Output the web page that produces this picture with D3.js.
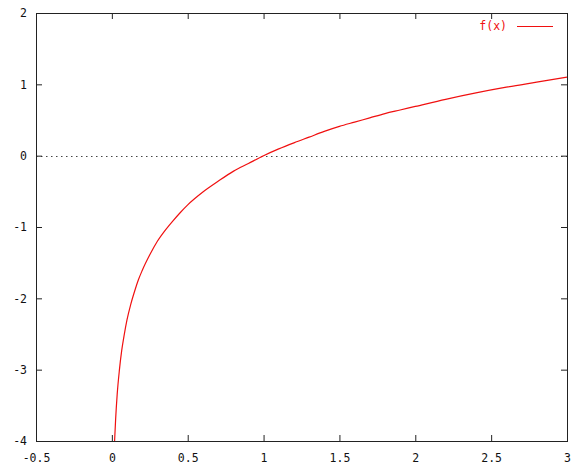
<!DOCTYPE html>
<html><head><meta charset="utf-8">
<script src="https://cdn.jsdelivr.net/npm/d3@7"></script>
<style>body{margin:0;background:#fff}svg{display:block}</style>
</head><body>
<script>
const xTicks = [-0.5, 0, 0.5, 1, 1.5, 2, 2.5, 3];
const yTicks = [-4, -3, -2, -1, 0, 1, 2];
const xTickLabels = ["-0.5", "0", "0.5", "1", "1.5", "2", "2.5", "3"];
const yTickLabels = ["-4", "-3", "-2", "-1", "0", "1", "2"];
const seriesName = "f(x)";
const xs = [0.018, 0.025, 0.035, 0.05, 0.065, 0.08, 0.1, 0.125, 0.15, 0.175, 0.2, 0.25, 0.3, 0.35, 0.4, 0.45, 0.5, 0.6, 0.7, 0.8, 0.9, 1.0, 1.1, 1.2, 1.3, 1.4, 1.5, 1.6, 1.7, 1.8, 1.9, 2.0, 2.2, 2.4, 2.6, 2.8, 3.0];
const ys = [-4.0, -3.69, -3.35, -3.0, -2.73, -2.53, -2.3, -2.08, -1.9, -1.74, -1.61, -1.39, -1.2, -1.05, -0.92, -0.8, -0.69, -0.51, -0.36, -0.22, -0.11, 0, 0.095, 0.18, 0.26, 0.34, 0.41, 0.47, 0.53, 0.59, 0.64, 0.69, 0.79, 0.88, 0.96, 1.03, 1.1];

const W = 588, H = 470;
const L = 36, R = 567, T = 13, B = 441;
const svg = d3.select("body").append("svg").attr("width", W).attr("height", H);
const x = d3.scaleLinear().domain([-0.5, 3]).range([L, R]);
const y = d3.scaleLinear().domain([-4, 2]).range([B, T]);
const font = "'DejaVu Sans Mono', monospace";
const axisColor = "#222";

// zero line
svg.append("line").attr("x1", L).attr("x2", R).attr("y1", Math.round(y(0)) + 0.5).attr("y2", Math.round(y(0)) + 0.5)
  .attr("stroke", "#444").attr("stroke-dasharray", "1.5,3.5");

function styleAxis(g, showLabels) {
  g.select(".domain").remove();
  g.selectAll(".tick line").attr("stroke", axisColor);
  if (!showLabels) g.selectAll(".tick text").remove();
  else g.selectAll(".tick text").attr("fill", "#111").attr("font-family", font).attr("font-size", "11.5px");
}
const fmtX = (d) => xTickLabels[xTicks.indexOf(d)];
const fmtY = (d) => yTickLabels[yTicks.indexOf(d)];

svg.append("g").attr("transform", `translate(0,${B})`)
  .call(d3.axisBottom(x).tickValues(xTicks).tickFormat(fmtX).tickSizeInner(-6).tickSizeOuter(0).tickPadding(13))
  .call(g => styleAxis(g, true));
svg.append("g").attr("transform", `translate(0,${T})`)
  .call(d3.axisTop(x).tickValues(xTicks).tickSizeInner(-6).tickSizeOuter(0))
  .call(g => styleAxis(g, false));
svg.append("g").attr("transform", `translate(${L},0)`)
  .call(d3.axisLeft(y).tickValues(yTicks).tickFormat(fmtY).tickSizeInner(-6).tickSizeOuter(0).tickPadding(9))
  .call(g => styleAxis(g, true));
svg.append("g").attr("transform", `translate(${R},0)`)
  .call(d3.axisRight(y).tickValues(yTicks).tickSizeInner(-6).tickSizeOuter(0))
  .call(g => styleAxis(g, false));

// frame
svg.append("rect").attr("x", L + 0.5).attr("y", T + 0.5).attr("width", R - L).attr("height", B - T)
  .attr("fill", "none").attr("stroke", axisColor).attr("stroke-width", 1);

// curve
svg.append("clipPath").attr("id", "c").append("rect").attr("x", L).attr("y", T).attr("width", R - L).attr("height", B - T + 1);
const data = xs.map((v, i) => [v, ys[i]]);
svg.append("path").datum(data)
  .attr("clip-path", "url(#c)")
  .attr("d", d3.line().x(d => x(d[0])).y(d => y(d[1])).curve(d3.curveMonotoneX))
  .attr("fill", "none").attr("stroke", "#f01010").attr("stroke-width", 1.2);

// legend
svg.append("text").attr("x", 507).attr("y", 26).attr("text-anchor", "end").attr("dominant-baseline", "middle")
  .attr("font-family", font).attr("font-size", "11.5px").attr("fill", "#f01010").text(seriesName);
svg.append("line").attr("x1", 517).attr("x2", 553).attr("y1", 26.5).attr("y2", 26.5).attr("stroke", "#f01010").attr("stroke-width", 1.2);
</script>
</body></html>
